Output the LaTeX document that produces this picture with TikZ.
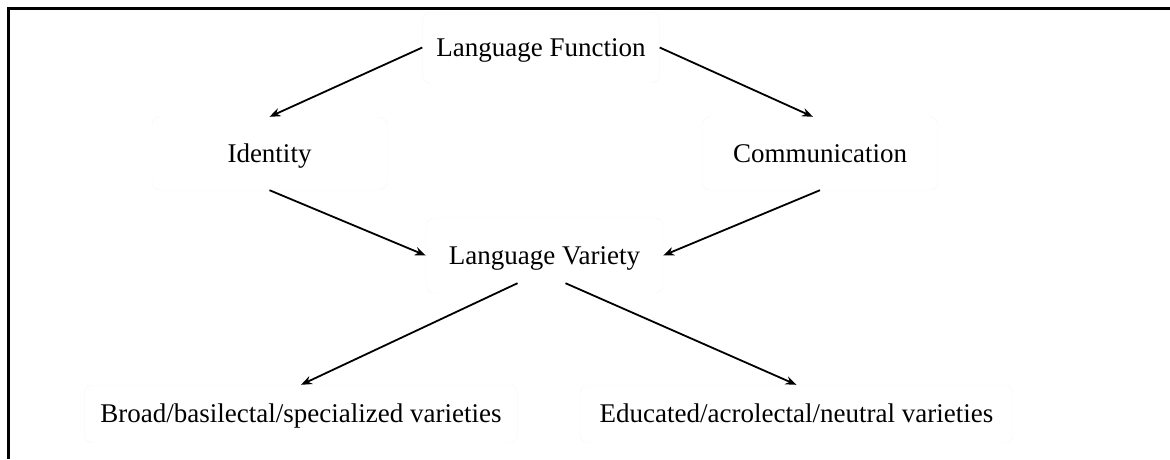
\documentclass[tikz,border=0pt]{standalone}
\usepackage{fontspec}
\setmainfont{Liberation Serif}
\usetikzlibrary{arrows.meta}

\begin{document}
\begin{tikzpicture}[x = 1pt, y = -1pt,
	box/.style = {draw = black!4, rounded corners = 8pt, inner sep = 0pt, text height = 19pt, text depth = 2pt, minimum height = 73pt, font = \fontsize{27}{32}\selectfont},
	wide/.style = {box, minimum width = 433pt, minimum height = 58pt},
	link/.style = {black, line width = 1.8pt, -{Stealth[length = 11pt, width = 8.5pt]}}]
							\useasboundingbox (0, 0) rectangle (1170, 459);
							\draw [black, line width = 2.6pt] (8.5, 459) -- (8.5, 8.5) -- (1170, 8.5);
							\node [box, minimum width = 237pt, minimum height = 71pt] (function) at (541, 47.5) {Language Function};
							\node [box, minimum width = 235pt] (identity) at (269.5, 153.5) {Identity};
							\node [box, minimum width = 236pt] (communication) at (820, 153.5) {Communication};
							\node [box, minimum width = 237pt, minimum height = 75pt] (variety) at (544.5, 255.5) {Language Variety};
							\node [wide] (broad) at (301, 414) {Broad/basilectal/specialized varieties};
							\node [wide] (educated) at (796.5, 414) {Educated/acrolectal/neutral varieties};
							\draw [link] (function.west) -- (identity.north);
							\draw [link] (function.east) -- ([xshift = -7pt] communication.north);
							\draw [link] (identity.south) -- (variety.west);
							\draw [link] (communication.south) -- (variety.east);
							\draw [link] ([xshift = -27pt, yshift = 10pt] variety.south) -- (broad.north);
							\draw [link] ([xshift = 21pt, yshift = 10pt] variety.south) -- (educated.north);
						\end{tikzpicture}
\end{document}
